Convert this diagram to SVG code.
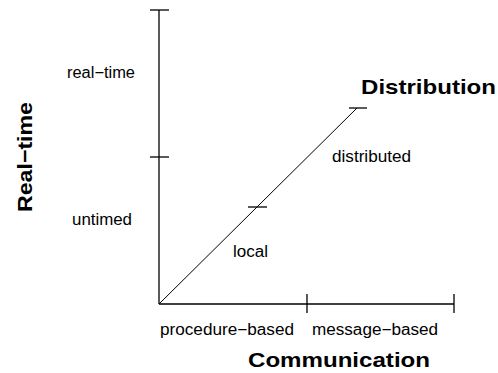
<svg xmlns="http://www.w3.org/2000/svg" width="498" height="373" viewBox="0 0 498 373">
  <style>
    .axis { stroke: #000; stroke-width: 1.3; fill: none; }
    .diag { stroke: #000; stroke-width: 1; fill: none; }
    .lbl { font-family: "Liberation Sans", Arial, sans-serif; font-size: 16px; fill: #000; }
    .title { font-family: "Liberation Sans", Arial, sans-serif; font-size: 21px; font-weight: bold; fill: #000; }
  </style>
  <rect width="498" height="373" fill="#fff"/>

  <!-- axes with their ticks -->
  <g id="connectors">
    <g id="axis-realtime">
      <line class="axis" x1="159" y1="10" x2="159" y2="304"/>
      <line class="axis" x1="150" y1="10" x2="169" y2="10"/>
      <line class="axis" x1="150" y1="157" x2="169" y2="157"/>
    </g>
    <g id="axis-communication">
      <line class="axis" x1="159" y1="304" x2="454" y2="304"/>
      <line class="axis" x1="307" y1="294" x2="307" y2="313"/>
      <line class="axis" x1="454" y1="294" x2="454" y2="313"/>
    </g>
    <g id="axis-distribution">
      <line class="diag" x1="159" y1="304" x2="357" y2="108"/>
      <line class="axis" x1="349" y1="108" x2="367" y2="108"/>
      <line class="axis" x1="248" y1="207" x2="267" y2="207"/>
    </g>
  </g>

  <!-- segment labels -->
  <g id="label-realtime"><text class="lbl" x="67" y="78" textLength="68" lengthAdjust="spacingAndGlyphs">real−time</text></g>
  <g id="label-untimed"><text class="lbl" x="72" y="225" textLength="60" lengthAdjust="spacingAndGlyphs">untimed</text></g>
  <g id="label-local"><text class="lbl" x="233" y="257" textLength="35" lengthAdjust="spacingAndGlyphs">local</text></g>
  <g id="label-distributed"><text class="lbl" x="332" y="162" textLength="79" lengthAdjust="spacingAndGlyphs">distributed</text></g>
  <g id="label-procedure"><text class="lbl" x="160" y="335" textLength="134" lengthAdjust="spacingAndGlyphs">procedure−based</text></g>
  <g id="label-message"><text class="lbl" x="312" y="335" textLength="126" lengthAdjust="spacingAndGlyphs">message−based</text></g>

  <!-- axis titles -->
  <g id="title-distribution"><text class="title" x="361" y="94" textLength="135" lengthAdjust="spacingAndGlyphs">Distribution</text></g>
  <g id="title-communication"><text class="title" x="248" y="367" textLength="182" lengthAdjust="spacingAndGlyphs">Communication</text></g>
  <g id="title-realtime"><text class="title" transform="translate(32,212) rotate(-90)" x="0" y="0" textLength="110" lengthAdjust="spacingAndGlyphs">Real−time</text></g>
</svg>
